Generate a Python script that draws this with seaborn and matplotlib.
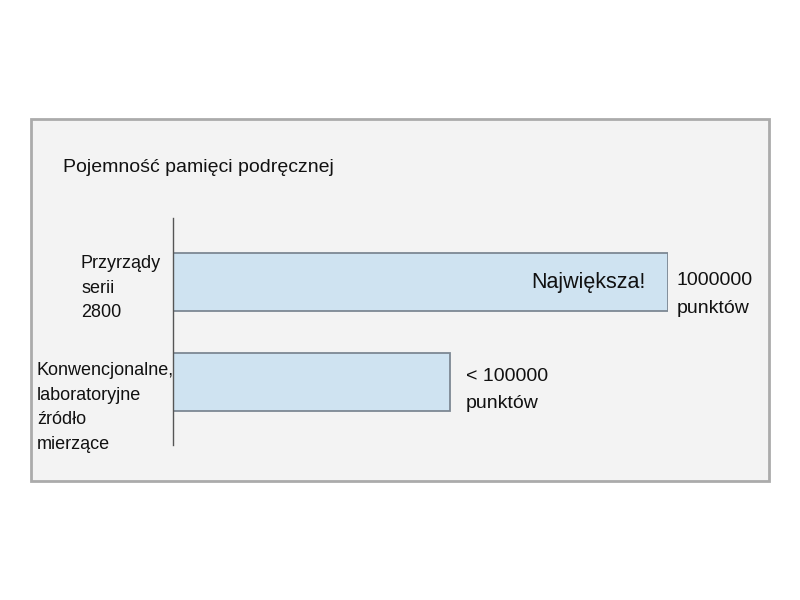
import matplotlib
matplotlib.use('Agg')
import matplotlib.pyplot as plt
import matplotlib.patches as mpatches
import pandas as pd
import seaborn as sns

sns.set_theme(style='white')
plt.rcParams['font.family'] = ['Liberation Sans', 'DejaVu Sans']

title = 'Pojemność pamięci podręcznej'
categories = ['Przyrządy\nserii\n2800',
              'Konwencjonalne,\nlaboratoryjne\nźródło\nmierzące']
# relative bar length, as drawn in the picture
bar_values = [100, 56]
value_labels = ['1000000\npunktów', '< 100000\npunktów']
inside_label = 'Największa!'

df = pd.DataFrame({'kat': categories, 'val': bar_values})

fig = plt.figure(figsize=(8, 6), dpi=100)
fig.patch.set_facecolor('white')

# grey panel behind the chart
panel = mpatches.Rectangle((31 / 800, 1 - 481 / 600), 738 / 800, 362 / 600,
                           transform=fig.transFigure, facecolor='#f3f3f3',
                           edgecolor='#ababab', linewidth=2, zorder=-5)
fig.patches.append(panel)

ax = fig.add_axes([173 / 800, 1 - 445 / 600, 495 / 800, 227 / 600])
ax.set_zorder(2)
ax.patch.set_alpha(0)

sns.barplot(data=df, x='val', y='kat', orient='h', color='#cfe3f1',
            saturation=1, width=0.58, edgecolor='#7d8893', linewidth=1.3,
            ax=ax)

ax.set_xlim(0, 100)
ax.set_ylim(1.625, -0.64)
ax.set_xlabel('')
ax.set_ylabel('')
ax.set_xticks([])
ax.set_yticks([])
for s in ['top', 'right', 'bottom']:
    ax.spines[s].set_visible(False)
ax.spines['left'].set_color('#555555')
ax.spines['left'].set_linewidth(1)

# category labels (left of the axis line)
label_x = [-92 / 495 * 100, -136 / 495 * 100]
label_dy = [-0.27, -0.20]
for i, (lab, lx, dy) in enumerate(zip(categories, label_x, label_dy)):
    ax.text(lx, i + dy, lab, ha='left', va='top', fontsize=13,
            linespacing=1.58, color='#111111', clip_on=False)

# value labels to the right of each bar
val_off = [(6, -9), (11.5, -5.5)]
for i, (v, lab, off) in enumerate(zip(bar_values, value_labels, val_off)):
    ax.annotate(lab, xy=(v, i), xytext=off, textcoords='offset points',
                ha='left', va='center', fontsize=14, linespacing=1.8,
                color='#111111', annotation_clip=False)

ax.annotate(inside_label, xy=(bar_values[0], 0), xytext=(-16, 0),
            textcoords='offset points', ha='right', va='center',
            fontsize=15.5, color='#111111')

fig.text(63 / 800, 1 - 168 / 600, title, ha='left', va='center',
         fontsize=14, color='#111111')

fig.savefig('out.png', dpi=100)
